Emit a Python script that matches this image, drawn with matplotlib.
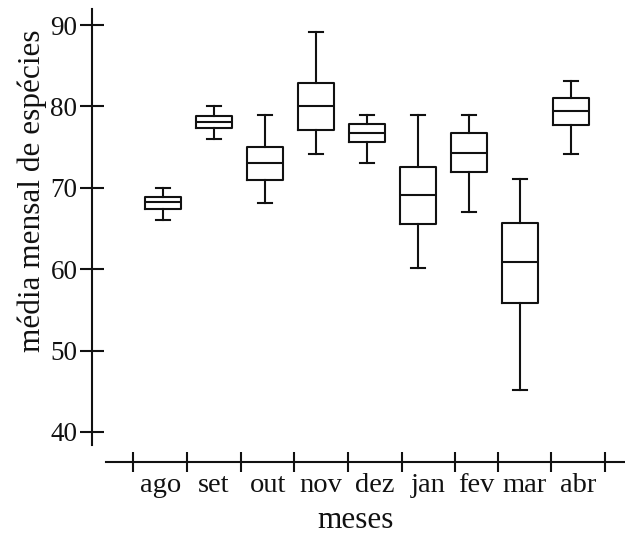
import matplotlib
matplotlib.use("Agg")
import matplotlib.pyplot as plt

# monthly species means: whisker low, Q1, median, Q3, whisker high
meses = ["ago", "set", "out", "nov", "dez", "jan", "fev", "mar", "abr"]
whis_lo = [66.1, 76.0, 68.1, 74.1, 73.0, 60.1, 67.0, 45.2, 74.1]
q1 = [67.4, 77.3, 70.9, 77.1, 75.6, 65.5, 72.0, 55.8, 77.7]
mediana = [68.2, 78.1, 73.0, 80.1, 76.7, 69.1, 74.3, 60.9, 79.4]
q3 = [68.9, 78.8, 75.0, 82.9, 77.8, 72.6, 76.7, 65.7, 81.0]
whis_hi = [70.0, 80.1, 78.9, 89.1, 78.9, 78.9, 78.9, 71.1, 83.1]
y_ticks = [40, 50, 60, 70, 80, 90]

plt.rcParams["font.family"] = ["Liberation Serif", "DejaVu Serif"]
INK = "#111111"
LW = 1.5

fig = plt.figure(figsize=(6.25, 5.37), dpi=100)
ax = fig.add_axes([92 / 625, 75 / 537, 1 - 92 / 625, 453 / 537])

stats = []
for i, m in enumerate(meses):
    stats.append(dict(label=m, whislo=whis_lo[i], q1=q1[i], med=mediana[i],
                      q3=q3[i], whishi=whis_hi[i], fliers=[]))

pos = list(range(1, len(meses) + 1))
ax.bxp(stats, positions=pos, widths=0.7, capwidths=0.27, showfliers=False,
       boxprops=dict(color=INK, linewidth=LW),
       medianprops=dict(color=INK, linewidth=LW),
       whiskerprops=dict(color=INK, linewidth=LW),
       capprops=dict(color=INK, linewidth=LW))

ax.set_xlim(-0.392, 10.06)
ax.set_ylim(36.31, 91.97)

for s in ["top", "right"]:
    ax.spines[s].set_visible(False)
for s in ["left", "bottom"]:
    ax.spines[s].set_linewidth(LW)
    ax.spines[s].set_color(INK)
ax.spines["left"].set_bounds(38.4, 91.97)
ax.spines["bottom"].set_bounds(-0.118, 10.06)

# category separators on the x axis, month names centred between them
sep = [0.418, 1.476, 2.529, 3.575, 4.622, 5.680, 6.725, 7.563, 8.608, 9.667]
mids = [(sep[k] + sep[k + 1]) / 2 for k in range(len(sep) - 1)]
ax.set_xticks(sep)
ax.set_xticklabels([])
ax.set_xticks(mids, minor=True)
ax.set_xticklabels(meses, minor=True)
ax.tick_params(axis="x", which="major", direction="inout", length=14.5,
               width=LW, color=INK)
ax.tick_params(axis="x", which="minor", length=0, pad=8, labelsize=20.5,
               labelcolor=INK)

ax.set_yticks(y_ticks)
ax.tick_params(axis="y", direction="inout", length=17, width=LW, color=INK,
               labelsize=19.5, labelcolor=INK, pad=2)

fig.text(32 / 625, 1 - 191 / 537, "média mensal de espécies", rotation=90,
         ha="center", va="center", fontsize=22.5, color=INK)
fig.text(356 / 625, 1 - 521 / 537, "meses", ha="center", va="center",
         fontsize=22.5, color=INK)

fig.savefig("out.png", dpi=100)
